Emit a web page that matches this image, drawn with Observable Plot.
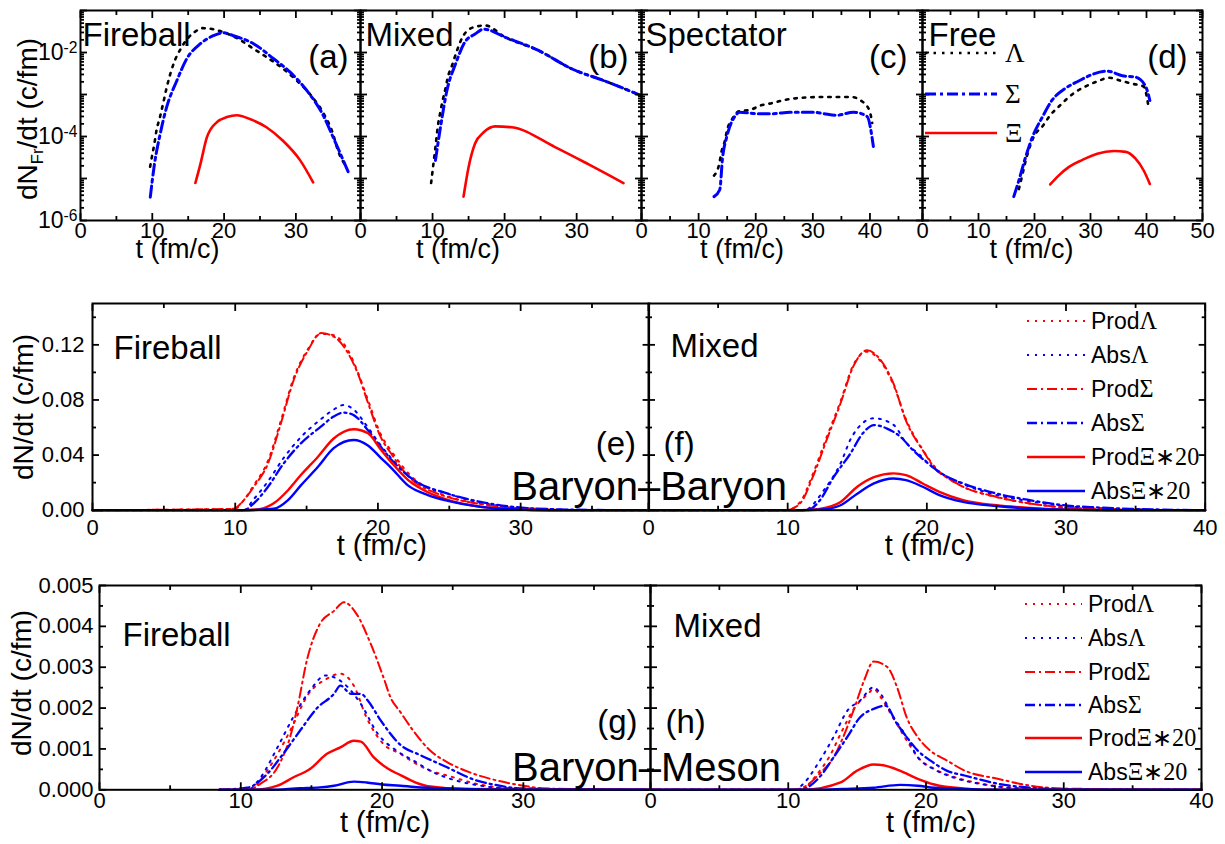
<!DOCTYPE html>
<html><head><meta charset="utf-8">
<script src="https://cdn.jsdelivr.net/npm/d3@7"></script>
<script src="https://cdn.jsdelivr.net/npm/@observablehq/plot@0.6"></script>
<style>
html,body{margin:0;padding:0;background:#fff;}
#chart{position:relative;width:1225px;height:844px;overflow:hidden;background:#fff;font-family:"Liberation Sans",Arial,sans-serif;color:#000;}
#chart svg.panel{position:absolute;max-width:none;}
.ytitle{position:absolute;white-space:nowrap;font-size:28px;transform:translate(-50%,-50%) rotate(-90deg);line-height:1;}
.ytitle sub{font-size:0.6em;vertical-align:-0.35em;line-height:0;}
.leg{position:absolute;white-space:nowrap;display:flex;align-items:center;line-height:1;}
.leg svg{display:block;}
.gk{font-family:"Liberation Serif","Times New Roman",serif;}
</style></head><body><div id="chart"></div>
<script>
// ---------------- DATA: top row (log scale), [t, dN/dt] ----------------
const aLam = [[9.7,1.9e-5],[10.0,3.7e-5],[10.3,6.9e-5],[10.6,1.45e-4],[11.0,2.6e-4],[11.5,6.0e-4],[12.0,1.45e-3],[13.0,5.6e-3],[14.0,0.0126],[15.0,0.0224],[16.0,0.0316],[17.0,0.038],[18.0,0.037],[19.0,0.034],[20.0,0.030],[22.0,0.021],[24.0,0.0126],[26.0,7.6e-3],[28.0,4.4e-3],[30.0,2.24e-3],[32.0,1.0e-3],[34.0,3.2e-4],[35.0,1.4e-4],[36.0,4.0e-5],[37.0,1.95e-5]];
const aSig = [[9.72,3.6e-6],[10.3,2.2e-5],[11.1,1.15e-4],[12.0,5.0e-4],[13.4,2.1e-3],[14.8,7.1e-3],[16.7,0.0162],[18.5,0.0251],[19.9,0.0295],[21.3,0.0251],[24.1,0.0162],[26.9,7.1e-3],[29.2,3.4e-3],[31.5,1.26e-3],[33.8,3.2e-4],[35.2,9.5e-5],[36.6,2.7e-5],[37.4,1.3e-5]];
const aXi  = [[16.0,7.8e-6],[16.7,2.2e-5],[17.6,9.5e-5],[19.0,2.2e-4],[20.4,2.9e-4],[21.8,3.2e-4],[23.6,2.6e-4],[25.9,1.66e-4],[28.2,7.9e-5],[30.6,2.7e-5],[32.4,8.1e-6]];

const bLam = [[9.8,7.8e-6],[10.0,1.5e-5],[10.4,5.6e-5],[10.76,1.9e-4],[11.08,3.8e-4],[11.4,7.2e-4],[11.8,1.4e-3],[12.1,2.5e-3],[12.7,4.9e-3],[13.4,0.0112],[14.2,0.024],[15.7,0.040],[17.3,0.044],[20.1,0.023],[24.7,0.0112],[29.3,4.1e-3],[33.9,2.1e-3],[38.9,9.5e-4]];
const bSig = [[10.4,2.7e-5],[11.1,1.66e-4],[12.0,1.26e-3],[13.2,5.4e-3],[14.5,0.0178],[15.9,0.0275],[17.1,0.036],[20.1,0.023],[24.7,0.0112],[29.3,4.1e-3],[33.9,2.1e-3],[38.9,9.5e-4]];
const bXi  = [[14.3,3.7e-6],[15.0,1.86e-5],[15.9,6.8e-5],[17.1,1.26e-4],[18.7,1.74e-4],[21.0,1.66e-4],[27.0,5.6e-5],[31.6,2.2e-5],[36.5,7.8e-6]];

const cLam = [[12.7,1.17e-5],[13.6,2.2e-5],[14.0,4.3e-5],[14.6,7.9e-5],[15.0,1.45e-4],[15.8,2.5e-4],[17.1,4.0e-4],[19.0,4.3e-4],[20.9,5.5e-4],[23.0,6.3e-4],[25.0,7.4e-4],[26.9,8.1e-4],[28.9,8.5e-4],[31.0,8.7e-4],[33.0,8.7e-4],[35.0,8.7e-4],[36.8,8.7e-4],[38.4,7.2e-4],[39.9,4.2e-4],[40.4,2.1e-4]];
const cSig = [[12.7,3.7e-6],[13.7,5.4e-6],[14.2,3.2e-5],[14.9,9.5e-5],[16.5,3.2e-4],[17.2,3.8e-4],[20.2,3.5e-4],[23.1,3.5e-4],[26.0,3.8e-4],[30.1,3.8e-4],[31.9,3.5e-4],[34.2,3.2e-4],[37.1,3.8e-4],[39.5,3.0e-4],[40.6,5.8e-5]];

const dLam = [[17.2,5.6e-6],[17.8,1.17e-5],[18.2,2.0e-5],[18.7,3.6e-5],[19.9,1.0e-4],[21.5,1.8e-4],[22.8,3.2e-4],[24.3,5.1e-4],[27.2,1.12e-3],[29.1,1.55e-3],[31.4,2.1e-3],[33.3,2.5e-3],[35.5,2.1e-3],[37.5,1.8e-3],[39.5,1.55e-3],[40.4,4.7e-4]];
const dSig = [[16.3,3.7e-6],[17.2,8.9e-6],[18.4,3.2e-5],[19.6,9.5e-5],[21.4,2.9e-4],[23.1,7.2e-4],[25.5,1.4e-3],[27.9,2.1e-3],[30.3,3.0e-3],[33.0,3.6e-3],[35.7,2.8e-3],[38.0,2.6e-3],[39.8,1.6e-3],[40.6,7.2e-4]];
const dXi  = [[22.8,7.2e-6],[24.3,1.17e-5],[26.1,1.86e-5],[28.5,2.75e-5],[31.2,3.9e-5],[34.2,4.5e-5],[36.3,4.3e-5],[38.0,3.0e-5],[39.5,1.55e-5],[40.6,7.4e-6]];

// ---------------- DATA: Baryon-Baryon (e: Fireball, f: Mixed) ----------------
const eProdLam = [[0,0],[10,0.001],[10.5,0.006],[11.3,0.018],[12.3,0.036],[13.2,0.065],[14.1,0.096],[15.1,0.117],[16.0,0.128],[16.9,0.127],[17.9,0.116],[18.6,0.100],[19.3,0.080],[20.2,0.055],[21.0,0.042],[22.5,0.023],[23.7,0.015],[24.9,0.010],[27.2,0.0045],[29.5,0.0018],[32,0.0005],[35,0],[39,0]];
const eAbsLam  = [[0,0],[10.6,0],[11.3,0.008],[12.3,0.021],[13.4,0.038],[14.6,0.053],[16.0,0.066],[16.9,0.073],[17.6,0.0764],[18.3,0.073],[19.3,0.060],[20.2,0.047],[21.0,0.037],[22.5,0.022],[24.9,0.012],[27.2,0.0055],[29.5,0.002],[32,0.0007],[35,0],[39,0]];
const eProdSig = [[0,0],[9.9,0.001],[10.4,0.005],[11.3,0.017],[12.3,0.034],[13.2,0.063],[14.1,0.0945],[15.1,0.116],[16.0,0.1285],[16.9,0.126],[17.9,0.114],[18.6,0.099],[19.3,0.078],[20.2,0.053],[21.0,0.040],[21.6,0.031],[22.5,0.021],[23.7,0.014],[24.9,0.0095],[27.2,0.0045],[29.5,0.0018],[32,0.0005],[35,0],[39,0]];
const eAbsSig  = [[0,0],[10.6,0],[11.3,0.005],[12.3,0.017],[13.4,0.034],[14.6,0.0485],[16.0,0.0606],[16.9,0.068],[17.6,0.0708],[18.3,0.069],[19.3,0.058],[20.2,0.046],[21.0,0.036],[22.5,0.022],[24.9,0.012],[27.2,0.006],[29.5,0.0024],[32,0.0008],[35,0.0002],[39,0]];
const eProdXi  = [[0,0],[10.5,0],[11.8,0.001],[12.7,0.005],[13.7,0.0145],[14.6,0.0255],[15.8,0.0388],[16.9,0.052],[18.3,0.0587],[19.3,0.0558],[20.2,0.044],[21.0,0.034],[22.1,0.022],[23.5,0.013],[24.9,0.0075],[27.2,0.0025],[29.5,0.0007],[32,0],[39,0]];
const eAbsXi   = [[0,0],[10.5,0],[12.7,0.001],[13.7,0.0073],[14.6,0.018],[15.8,0.0315],[16.9,0.045],[18.3,0.0509],[19.3,0.047],[20.2,0.038],[21.0,0.030],[22.1,0.018],[23.5,0.011],[24.9,0.0068],[27.2,0.0024],[29.5,0.0007],[32,0],[39,0]];

const fProdLam = [[0,0],[9.9,0],[10.9,0.006],[11.8,0.026],[12.8,0.053],[13.8,0.079],[14.7,0.105],[15.7,0.115],[16.6,0.109],[17.6,0.091],[18.5,0.066],[19.7,0.044],[20.7,0.030],[21.4,0.024],[22.6,0.017],[25,0.0095],[27.4,0.0048],[29.8,0.002],[32.2,0.001],[35,0.0003],[40,0]];
const fAbsLam  = [[0,0],[11.2,0],[12.6,0.0145],[13.8,0.034],[14.6,0.053],[16.2,0.0667],[17.6,0.062],[18.5,0.049],[19.5,0.040],[20.2,0.033],[22.6,0.019],[25,0.011],[27.4,0.0065],[29.8,0.003],[32.2,0.0015],[35,0.0005],[40,0]];
const fProdSig = [[0,0],[9.9,0],[10.9,0.005],[11.8,0.024],[12.8,0.051],[13.8,0.0776],[14.7,0.104],[15.7,0.116],[16.6,0.110],[17.6,0.092],[18.5,0.065],[19.7,0.0436],[20.7,0.029],[21.4,0.024],[22.6,0.017],[25,0.0097],[27.4,0.0049],[29.8,0.002],[32.2,0.001],[35,0.0003],[40,0]];
const fAbsSig  = [[0,0],[11.4,0],[12.3,0.007],[13.3,0.024],[14.5,0.041],[15.4,0.0558],[16.2,0.0618],[17.1,0.0594],[18.1,0.0533],[19.0,0.0436],[20.2,0.033],[21.0,0.027],[22.6,0.0194],[25,0.0121],[27.4,0.0073],[29.8,0.0036],[32.2,0.002],[34.6,0.001],[37,0.0004],[40,0]];
const fProdXi  = [[0,0],[11,0],[12.3,0.001],[13.8,0.006],[15.0,0.017],[16.2,0.024],[17.6,0.0267],[18.5,0.0255],[19.7,0.0194],[20.9,0.0133],[22.6,0.0073],[25,0.0036],[27.4,0.0017],[30,0.0005],[33,0],[40,0]];
const fAbsXi   = [[0,0],[11,0],[12.5,0.0005],[13.8,0.0036],[15.0,0.012],[16.2,0.0194],[17.6,0.023],[18.5,0.0218],[19.7,0.017],[20.9,0.011],[22.6,0.006],[25,0.003],[27.4,0.0012],[30,0.0003],[33,0],[40,0]];

// ---------------- DATA: Baryon-Meson (g: Fireball, h: Mixed) ----------------
const gProdLam = [[8.5,0],[10.8,0],[11.3,0.0002],[12.3,0.0007],[13.5,0.00145],[14.8,0.00235],[16.0,0.0027],[17.05,0.00284],[18.0,0.00255],[18.9,0.00177],[20.1,0.00112],[21.3,0.00088],[22.2,0.00068],[23.4,0.00047],[24.6,0.00035],[26.9,0.00013],[29,0.00004],[39,0]];
const gAbsLam  = [[8.5,0],[10.5,0],[11.4,0.0003],[12.6,0.00104],[13.7,0.00177],[14.9,0.00243],[16.0,0.0028],[17.3,0.0026],[18.5,0.0021],[19.7,0.00137],[21.1,0.00094],[22.3,0.0007],[23.5,0.00045],[25,0.00025],[27,0.0001],[29,0.00003],[39,0]];
const gProdSig = [[8.5,0],[10.45,0],[11.4,0.00015],[12.6,0.00055],[13.5,0.0013],[14.0,0.002],[14.7,0.0032],[15.6,0.00406],[16.6,0.00438],[17.3,0.00459],[18.2,0.0043],[19.2,0.00357],[20.1,0.00275],[20.6,0.00226],[21.3,0.0019],[22.2,0.00145],[23.4,0.00096],[24.6,0.00068],[26.5,0.00039],[28.1,0.00023],[30.0,0.0001],[31.7,0.00003],[39,0]];
const gAbsSig  = [[8.5,0],[10.45,0.00005],[11.9,0.0004],[13.0,0.00088],[14.2,0.00145],[15.4,0.002],[16.6,0.00235],[17.05,0.00255],[17.8,0.00235],[18.5,0.00235],[19.0,0.00218],[19.9,0.0017],[21.3,0.0011],[22.7,0.00085],[24.6,0.00055],[26.5,0.00025],[28,0.00012],[30,0.00003],[39,0]];
const gProdXi  = [[8.5,0],[10.9,0],[12.6,0.0001],[13.7,0.0003],[14.9,0.00051],[16.1,0.00088],[17.05,0.00104],[18.0,0.0012],[18.5,0.00118],[19.4,0.0008],[20.4,0.00052],[21.3,0.00036],[22.3,0.00019],[23.4,0.00008],[25.8,0.00002],[39,0]];
const gAbsXi   = [[8.5,0],[12,0],[14.2,0.00004],[15.6,0.00006],[16.6,0.0001],[18.0,0.0002],[18.9,0.00018],[20,0.00013],[21.3,0.0001],[22.3,0.00007],[24.6,0.00003],[27,0.00001],[39,0]];

const hProdLam = [[0,0],[11,0],[11.9,0.0003],[13.1,0.00088],[13.8,0.00137],[14.8,0.002],[15.8,0.00235],[16.2,0.00247],[16.7,0.00227],[17.6,0.00177],[18.6,0.00121],[19.4,0.0008],[20.6,0.00051],[22,0.00032],[24,0.00015],[26,0.00006],[28,0.00002],[40,0]];
const hAbsLam  = [[0,0],[10.5,0],[11.1,0.00015],[12.3,0.00072],[13.3,0.0013],[14.3,0.00194],[15.2,0.00218],[16.2,0.00251],[16.7,0.00235],[17.6,0.0018],[18.6,0.00129],[19.4,0.0008],[20.6,0.0005],[22,0.0003],[24,0.00014],[26,0.00005],[28,0.00002],[40,0]];
const hProdSig = [[0,0],[10.5,0],[11.1,0.00006],[12.3,0.0004],[13.3,0.0008],[14.0,0.0013],[14.8,0.002],[15.5,0.00267],[16.2,0.00314],[17.2,0.003],[17.9,0.00251],[18.6,0.00177],[19.4,0.00129],[20.3,0.00096],[21.5,0.00072],[22.8,0.00047],[25.2,0.00027],[27.6,0.0001],[30,0.00003],[40,0]];
const hAbsSig  = [[0,0],[10.5,0],[11.1,0.00002],[12.3,0.00032],[13.3,0.0008],[14.3,0.0013],[15.2,0.00177],[16.2,0.00198],[17.05,0.00206],[17.9,0.00161],[18.6,0.00129],[19.4,0.00096],[20.3,0.00072],[21.5,0.00047],[22.8,0.00035],[25.2,0.00015],[27.6,0.00005],[30,0.00001],[40,0]];
const hProdXi  = [[0,0],[11.1,0],[13.8,0.00018],[15.0,0.00047],[16.2,0.00062],[16.9,0.0006],[18.1,0.00047],[19.4,0.00027],[20.6,0.00013],[22.8,0.00003],[25,0],[40,0]];
const hAbsXi   = [[0,0],[12,0],[14,0.00002],[16.2,0.00005],[18.1,0.00012],[19.4,0.0001],[20.6,0.00005],[22.8,0.00002],[25,0],[40,0]];

// ---------------- labels / ticks ----------------
const stageNames = ["Fireball", "Mixed", "Spectator", "Free"];
const topLetters = ["(a)", "(b)", "(c)", "(d)"];
const topSpecies = ["Λ", "Σ", "Ξ"];
const legProc = ["Prod", "Abs", "Prod", "Abs", "Prod", "Abs"];
const legSpec = ["Λ", "Λ", "Σ", "Σ", "Ξ∗20", "Ξ∗20"];
const xTitle = "t (fm/c)";
const rowTitles = ["Baryon–Baryon", "Baryon–Meson"];
const logMajor = [1e-6, 1e-5, 1e-4, 1e-3, 1e-2, 1e-1];
const logLabels = [1e-6, 1e-4, 1e-2];
const logMinor = [-6, -5, -4, -3, -2].flatMap(e => [2,3,4,5,6,7,8,9].map(k => k * 10 ** e));
const bbMajor = [0, 0.04, 0.08, 0.12], bbMinor = [0.02, 0.06, 0.10, 0.14];
const bmMajor = [0, 0.001, 0.002, 0.003, 0.004, 0.005], bmMinor = [0.0005, 0.0015, 0.0025, 0.0035, 0.0045];

// ---------------- styles ----------------
const RED = "#ff0000", BLUE = "#0000ff";
const topStyle = [
  {color: "#000", width: 2.6, dash: "2.5,6"},
  {color: BLUE, width: 3, dash: "11,4,3,4"},
  {color: RED, width: 2.6, dash: null}
];
const midStyle = [
  {color: RED, width: 2, dash: "2,6"},
  {color: BLUE, width: 2, dash: "2,6"},
  {color: RED, width: 2, dash: "10,4,2,4"},
  {color: BLUE, width: 2.3, dash: "10,4,2,4"},
  {color: RED, width: 2.4, dash: null},
  {color: BLUE, width: 2.4, dash: null}
];

const chart = document.getElementById("chart");
const M = {l: 120, r: 80, t: 30, b: 80};
const SANS = "'Liberation Sans', Arial, sans-serif";

function tickMark(ticks, size, anchor) {
  const o = {anchor, tickSize: size, tickFormat: () => "", label: null, strokeWidth: 1.8};
  if (anchor === "bottom") o.dy = -size;
  if (anchor === "top") o.dy = size;
  if (anchor === "left") o.dx = size;
  if (anchor === "right") o.dx = -size;
  return (anchor === "bottom" || anchor === "top") ? Plot.axisX(ticks, o) : Plot.axisY(ticks, o);
}

function panel(p) {
  const w = p.x1 - p.x0, h = p.y1 - p.y0;
  const marks = [];
  p.series.forEach((s, i) => {
    const st = p.styles[i];
    marks.push(Plot.line(s, {x: d => d[0], y: d => d[1], stroke: st.color, strokeWidth: st.width,
      strokeDasharray: st.dash || undefined, curve: "monotone-x"}));
  });
  marks.push(Plot.frame({stroke: "#000", strokeWidth: 2}));
  for (const a of ["bottom", "top"]) marks.push(tickMark(p.xMaj, 7, a), tickMark(p.xMin, 4, a));
  for (const a of ["left", "right"]) marks.push(tickMark(p.yMaj, 7, a), tickMark(p.yMin, 4, a));
  marks.push(Plot.axisX(p.xLab, {anchor: "bottom", tickSize: 0, tickPadding: p.xPad, label: null, fontSize: 22, tickFormat: d => String(d)}));
  if (p.yLab) marks.push(Plot.axisY(p.yLab, {anchor: "left", tickSize: 0, tickPadding: p.yPad, label: null, fontSize: p.yFont || 22, tickFormat: p.yFmt}));
  marks.push(Plot.text([xTitle], {text: d => d, frameAnchor: "bottom", lineAnchor: "middle", dx: p.xTitleDx, dy: p.xTitleDy, fontSize: p.xTitleFs || 29}));
  for (const t of p.texts) {
    marks.push(Plot.text([t.s], {text: d => d, frameAnchor: t.anchor, textAnchor: t.ta, lineAnchor: "top", dx: t.dx, dy: t.dy, fontSize: t.fs}));
  }
  const svg = Plot.plot({
    width: w + M.l + M.r, height: h + M.t + M.b,
    marginLeft: M.l, marginRight: M.r, marginTop: M.t, marginBottom: M.b,
    x: {domain: p.xDomain, label: null},
    y: {type: p.yType, domain: p.yDomain, label: null},
    style: {background: "transparent", overflow: "visible", fontFamily: SANS, color: "#000"},
    marks
  });
  svg.classList.add("panel");
  svg.style.left = (p.x0 - M.l) + "px";
  svg.style.top = (p.y0 - M.t) + "px";
  // superscript exponents for log labels
  d3.select(svg).selectAll("text").each(function () {
    const m = /^10\^(-?\d+)$/.exec(this.textContent);
    if (m) {
      this.textContent = "10";
      d3.select(this).append("tspan").attr("dy", "-0.42em").attr("font-size", "0.68em").text(m[1]);
    }
  });
  chart.appendChild(svg);
  return svg;
}

// ---------------- top row ----------------
const topFrames = [
  {x0: 80, x1: 360, dom: [0, 39], lab: [0, 10, 20, 30], min: [5, 15, 25, 35], series: [aLam, aSig, aXi], tdx: -43},
  {x0: 360, x1: 641, dom: [0, 39], lab: [0, 10, 20, 30], min: [5, 15, 25, 35], series: [bLam, bSig, bXi], tdx: -43},
  {x0: 641, x1: 922, dom: [0, 49.2], lab: [0, 10, 20, 30, 40], min: [5, 15, 25, 35, 45], series: [cLam, cSig], tdx: -40},
  {x0: 922, x1: 1202, dom: [0, 50], lab: [0, 10, 20, 30, 40, 50], min: [5, 15, 25, 35, 45], series: [dLam, dSig, dXi], tdx: -31}
];
const nameDx = [2, 5, 4, 6], letterDx = [-12, -13, -15, -15];
topFrames.forEach((f, i) => {
  panel({
    x0: f.x0, x1: f.x1, y0: 10, y1: 220, xDomain: f.dom, yType: "log", yDomain: [1e-6, 1e-1],
    series: f.series, styles: topStyle,
    xMaj: f.lab, xMin: f.min, xLab: f.lab, xPad: 2,
    yMaj: logMajor, yMin: logMinor, yLab: i === 0 ? logLabels : null, yPad: 3, yFont: 23,
    yFmt: d => "10^" + Math.round(Math.log10(d)),
    xTitleDx: f.tdx, xTitleDy: 29, xTitleFs: 27,
    texts: [
      {s: stageNames[i], anchor: "top-left", ta: "start", dx: nameDx[i], dy: 12, fs: 33},
      {s: topLetters[i], anchor: "top-right", ta: "end", dx: letterDx[i], dy: 34, fs: 33}
    ]
  });
});

// ---------------- middle row ----------------
panel({
  x0: 91.7, x1: 648.3, y0: 303.3, y1: 510, xDomain: [0, 39], yType: "linear", yDomain: [0, 0.15],
  series: [eProdLam, eAbsLam, eProdSig, eAbsSig, eProdXi, eAbsXi], styles: midStyle,
  xMaj: [0, 10, 20, 30], xMin: [5, 15, 25, 35], xLab: [0, 10, 20, 30], xPad: 9,
  yMaj: bbMajor, yMin: bbMinor, yLab: bbMajor, yPad: 8, yFmt: d3.format(".2f"),
  xTitleDx: 11, xTitleDy: 36,
  texts: [
    {s: stageNames[0], anchor: "top-left", ta: "start", dx: 21, dy: 32, fs: 33},
    {s: "(e)", anchor: "top-right", ta: "end", dx: -13, dy: 128, fs: 33},
    {s: rowTitles[0], anchor: "top-right", ta: "middle", dx: 0, dy: 168, fs: 40}
  ]
});
panel({
  x0: 648.3, x1: 1205, y0: 303.3, y1: 510, xDomain: [0, 40], yType: "linear", yDomain: [0, 0.15],
  series: [fProdLam, fAbsLam, fProdSig, fAbsSig, fProdXi, fAbsXi], styles: midStyle,
  xMaj: [0, 10, 20, 30, 40], xMin: [5, 15, 25, 35], xLab: [0, 10, 20, 30, 40], xPad: 9,
  yMaj: bbMajor, yMin: bbMinor, yLab: null,
  xTitleDx: 3, xTitleDy: 36,
  texts: [
    {s: stageNames[1], anchor: "top-left", ta: "start", dx: 22, dy: 30, fs: 33},
    {s: "(f)", anchor: "top-left", ta: "start", dx: 15, dy: 128, fs: 33}
  ]
});

// ---------------- bottom row ----------------
panel({
  x0: 99, x1: 650, y0: 585, y1: 789.3, xDomain: [0, 39], yType: "linear", yDomain: [0, 0.005],
  series: [gProdLam, gAbsLam, gProdSig, gAbsSig, gProdXi, gAbsXi], styles: midStyle,
  xMaj: [0, 10, 20, 30], xMin: [5, 15, 25, 35], xLab: [0, 10, 20, 30], xPad: 3,
  yMaj: bmMajor, yMin: bmMinor, yLab: bmMajor, yPad: 6, yFmt: d3.format(".3f"),
  xTitleDx: 10, xTitleDy: 33,
  texts: [
    {s: stageNames[0], anchor: "top-left", ta: "start", dx: 23, dy: 37, fs: 33},
    {s: "(g)", anchor: "top-right", ta: "end", dx: -13, dy: 124, fs: 33},
    {s: rowTitles[1], anchor: "top-right", ta: "middle", dx: -4, dy: 167, fs: 40}
  ]
});
panel({
  x0: 650, x1: 1201, y0: 585, y1: 789.3, xDomain: [0, 40], yType: "linear", yDomain: [0, 0.005],
  series: [hProdLam, hAbsLam, hProdSig, hAbsSig, hProdXi, hAbsXi], styles: midStyle,
  xMaj: [0, 10, 20, 30, 40], xMin: [5, 15, 25, 35], xLab: [0, 10, 20, 30, 40], xPad: 3,
  yMaj: bmMajor, yMin: bmMinor, yLab: null,
  xTitleDx: 5, xTitleDy: 33,
  texts: [
    {s: stageNames[1], anchor: "top-left", ta: "start", dx: 23, dy: 28, fs: 33},
    {s: "(h)", anchor: "top-left", ta: "start", dx: 15, dy: 124, fs: 33}
  ]
});

// ---------------- y-axis titles ----------------
function ytitle(html, cx, cy) {
  const d = document.createElement("div");
  d.className = "ytitle"; d.innerHTML = html;
  d.style.left = cx + "px"; d.style.top = cy + "px";
  chart.appendChild(d);
}
ytitle("dN<sub>Fr</sub>/dt (c/fm)", 28, 119);
ytitle("dN/dt (c/fm)", 24, 407);
ytitle("dN/dt (c/fm)", 22, 683);

// ---------------- legends ----------------
function legendRow(x0, yc, lineW, gap, st, html, fs) {
  const d = document.createElement("div");
  d.className = "leg";
  d.style.left = x0 + "px"; d.style.top = (yc - 15) + "px"; d.style.height = "30px"; d.style.fontSize = fs + "px";
  d.innerHTML = `<svg width="${lineW}" height="30"><line x1="0" y1="15" x2="${lineW}" y2="15" stroke="${st.color}" stroke-width="${st.width}" ${st.dash ? `stroke-dasharray="${st.dash}"` : ""}/></svg><span style="margin-left:${gap}px">${html}</span>`;
  chart.appendChild(d);
}
const dLegY = [53, 94, 133];
topSpecies.forEach((s, i) => legendRow(925, dLegY[i], 72, 8, topStyle[i], `<span class="gk">${s}</span>`, 27));
const fLegY = [321, 355, 389, 423, 457, 491];
const hLegY = [604, 638, 672, 705, 738, 772];
legProc.forEach((p, i) => {
  const html = `${p}<span class="gk" style="font-size:1.05em">${legSpec[i]}</span>`;
  legendRow(1027, fLegY[i], 58, 6, midStyle[i], html, 23);
  legendRow(1025, hLegY[i], 57, 6, midStyle[i], html, 23);
});
</script></body></html>
